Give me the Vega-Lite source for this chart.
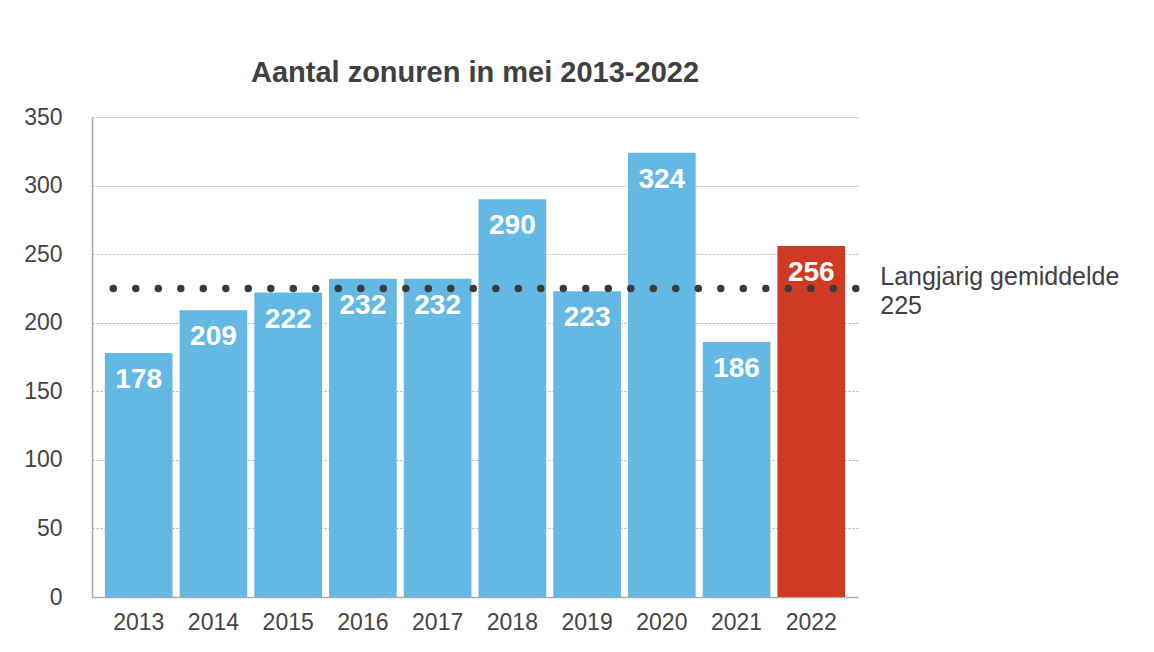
{
  "$schema": "https://vega.github.io/schema/vega-lite/v6.json",
  "description": "Aantal zonuren in mei 2013-2022",
  "width": 766,
  "height": 480,
  "autosize": {"type": "none"},
  "padding": {"left": 92, "top": 117, "right": 296, "bottom": 55},
  "background": "white",
  "config": {
    "font": "Liberation Sans",
    "view": {"stroke": null},
    "axis": {"labelColor": "#444444", "labelFont": "Liberation Sans"}
  },
  "title": {
    "text": "Aantal zonuren in mei 2013-2022",
    "fontSize": 29,
    "fontWeight": "bold",
    "color": "#404040",
    "anchor": "middle",
    "offset": 18
  },
  "data": {
    "values": [
      {"jaar": "2013", "zonuren": 178},
      {"jaar": "2014", "zonuren": 209},
      {"jaar": "2015", "zonuren": 222},
      {"jaar": "2016", "zonuren": 232},
      {"jaar": "2017", "zonuren": 232},
      {"jaar": "2018", "zonuren": 290},
      {"jaar": "2019", "zonuren": 223},
      {"jaar": "2020", "zonuren": 324},
      {"jaar": "2021", "zonuren": 186},
      {"jaar": "2022", "zonuren": 256}
    ]
  },
  "layer": [
    {
      "mark": {"type": "bar"},
      "encoding": {
        "x": {
          "field": "jaar",
          "type": "ordinal",
          "title": null,
          "scale": {"paddingInner": 0.094, "paddingOuter": 0.172},
          "axis": {
            "labelAngle": 0,
            "labelFontSize": 23,
            "labelPadding": 14,
            "ticks": false,
            "domainColor": "#aaaaaa",
            "domainWidth": 1.5,
            "grid": false
          }
        },
        "y": {
          "field": "zonuren",
          "type": "quantitative",
          "title": null,
          "scale": {"domain": [0, 350]},
          "axis": {
            "values": [0, 50, 100, 150, 200, 250, 300, 350],
            "labelFontSize": 23,
            "labelPadding": 30,
            "ticks": false,
            "domainColor": "#aaaaaa",
            "domainWidth": 1.5,
            "grid": true,
            "gridColor": "#b0b0b0",
            "gridDash": [2, 2],
            "gridWidth": 1
          }
        },
        "color": {
          "condition": {"test": "datum.jaar === '2022'", "value": "#cf3a22"},
          "value": "#64b9e4"
        }
      }
    },
    {
      "mark": {
        "type": "text",
        "color": "white",
        "fontSize": 28,
        "fontWeight": "bold",
        "baseline": "alphabetic",
        "align": "center",
        "dy": 35
      },
      "encoding": {
        "x": {"field": "jaar", "type": "ordinal"},
        "y": {"field": "zonuren", "type": "quantitative"},
        "text": {"field": "zonuren", "type": "quantitative"}
      }
    },
    {
      "data": {"values": [{"gemiddelde": 225}]},
      "mark": {
        "type": "rule",
        "color": "#3a3a3a",
        "strokeWidth": 7.5,
        "strokeCap": "round",
        "strokeDash": [0, 22.5],
        "strokeDashOffset": 20.3
      },
      "encoding": {
        "y": {"field": "gemiddelde", "type": "quantitative"}
      }
    },
    {
      "data": {"values": [{"jaar": "2022", "gemiddelde": 225}]},
      "mark": {
        "type": "text",
        "color": "#404040",
        "fontSize": 25,
        "align": "left",
        "baseline": "middle",
        "lineHeight": 29,
        "dx": 69,
        "dy": -11
      },
      "encoding": {
        "x": {"field": "jaar", "type": "ordinal"},
        "y": {"field": "gemiddelde", "type": "quantitative"},
        "text": {"value": ["Langjarig gemiddelde", "225"]}
      }
    }
  ]
}
